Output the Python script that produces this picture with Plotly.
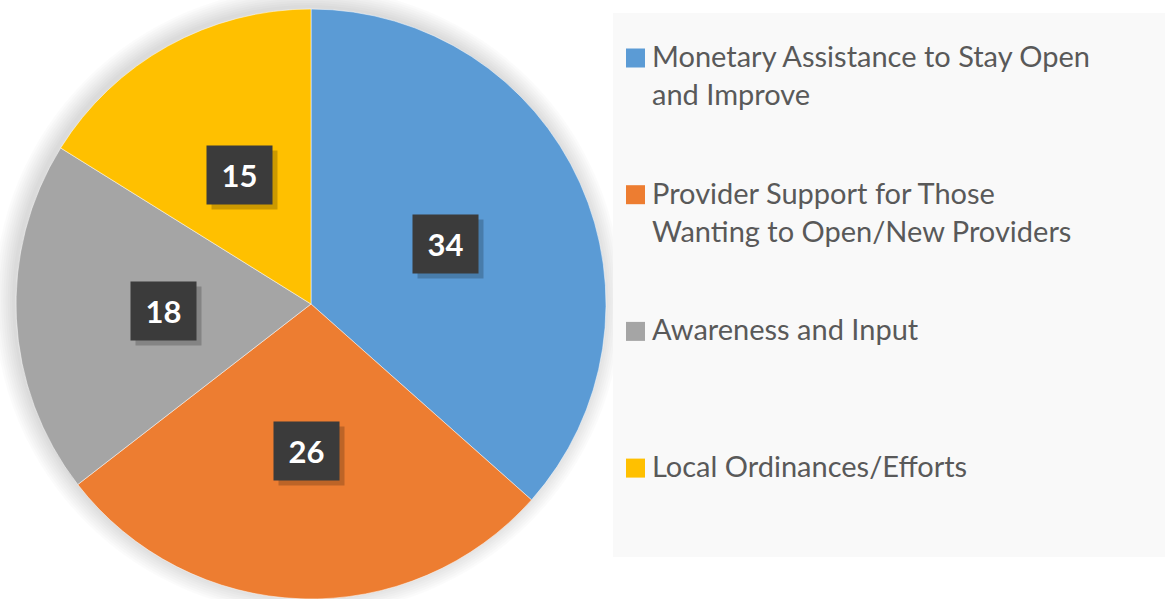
import math
import plotly.graph_objects as go

categories = [
    "Monetary Assistance to Stay Open<br>and Improve",
    "Provider Support for Those<br>Wanting to Open/New Providers",
    "Awareness and Input",
    "Local Ordinances/Efforts",
]
values = [34, 26, 18, 15]
colors = ["#5B9BD5", "#ED7D31", "#A5A5A5", "#FFC000"]

W, H = 1165, 599
# pie geometry in pixels
cx, cy, r = 311, 304, 295

def px(x):
    return x / W

def py(y):
    return 1 - y / H

fig = go.Figure()
fig.add_trace(go.Pie(
    labels=categories,
    values=values,
    sort=False,
    direction="clockwise",
    rotation=0,
    marker=dict(colors=colors, line=dict(color="rgba(255,255,255,0.5)", width=1)),
    textinfo="none",
    hoverinfo="label+value",
    showlegend=False,
    domain=dict(x=[px(cx - r), px(cx + r)], y=[py(cy + r), py(cy - r)]),
))

shapes = []
# soft shadow around the pie
for k in range(9):
    rr = r + 1 + k * 2.2
    shapes.append(dict(type="circle", xref="paper", yref="paper", layer="below",
                       x0=px(cx - rr - 3), x1=px(cx + rr - 3),
                       y0=py(cy + rr - 3), y1=py(cy - rr - 3),
                       fillcolor="rgba(0,0,0,0.014)", line=dict(width=0)))
# legend background
shapes.append(dict(type="rect", xref="paper", yref="paper", layer="below",
                   x0=px(613), x1=1.0, y0=py(557), y1=py(13),
                   fillcolor="#F9F9F9", line=dict(width=0)))

annotations = []
total = sum(values)
cum = 0
for v in values:
    mid = (cum + v / 2) / total * 2 * math.pi
    cum += v
    lx = cx + 0.5 * r * math.sin(mid)
    ly = cy - 0.5 * r * math.cos(mid)
    # label shadow
    annotations.append(dict(x=px(lx + 5), y=py(ly + 5), xref="paper", yref="paper",
                            xanchor="center", yanchor="middle",
                            text=" ", showarrow=False, width=65, height=58,
                            bgcolor="rgba(0,0,0,0.2)", borderpad=0))
    annotations.append(dict(x=px(lx), y=py(ly), xref="paper", yref="paper",
                            xanchor="center", yanchor="middle",
                            text="<b>%d</b>" % v, showarrow=False, width=65, height=58,
                            bgcolor="#3B3B3B", borderpad=0,
                            font=dict(family="Lato", size=31, color="white")))

# legend
leg_y0, leg_step = 58, 136.7
for i, (lab, col) in enumerate(zip(categories, colors)):
    yc = leg_y0 + i * leg_step
    shapes.append(dict(type="rect", xref="paper", yref="paper",
                       x0=px(626), x1=px(645), y0=py(yc + 9.5), y1=py(yc - 9.5),
                       fillcolor=col, line=dict(width=0)))
    annotations.append(dict(x=px(650), y=py(yc - 22), xref="paper", yref="paper",
                            xanchor="left", yanchor="top", align="left",
                            text=lab, showarrow=False,
                            font=dict(family="Lato", size=29, color="#595959")))

fig.update_layout(
    width=W, height=H,
    margin=dict(l=0, r=0, t=0, b=0),
    paper_bgcolor="white",
    plot_bgcolor="white",
    shapes=shapes,
    annotations=annotations,
    showlegend=False,
)

fig.write_html("out.html", config={"displayModeBar": False},
               post_script="document.body.style.margin='0';")
